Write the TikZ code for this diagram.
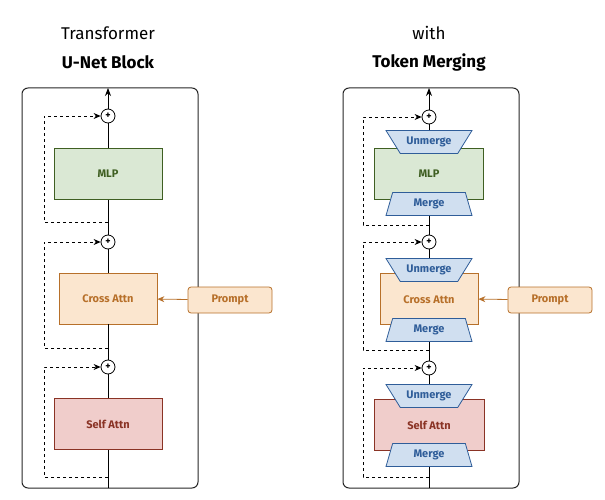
\documentclass[tikz,border=0pt]{standalone}
\usepackage{fontspec}
\setmainfont{Fira Sans}
\usetikzlibrary{shapes.geometric,arrows.meta}
\definecolor{gF}{HTML}{DAE8D4}\definecolor{gD}{HTML}{3F5F22}
\definecolor{oF}{HTML}{FBE6CF}\definecolor{oD}{HTML}{B7702A}
\definecolor{rF}{HTML}{F0CDCB}\definecolor{rD}{HTML}{8A3325}
\definecolor{bF}{HTML}{D0DFF0}\definecolor{bD}{HTML}{2F5D99}
\tikzset{
 panel/.style={draw=black!85,line width=1pt,rounded corners=6pt},
 blk/.style={draw=#1D,fill=#1F,text=#1D,line width=0.8pt,font=\bfseries\fontsize{11}{12}\selectfont,minimum height=51pt,inner sep=0},
 plus/.style={circle,draw,line width=0.8pt,fill=white,minimum size=14pt,inner sep=0,font=\bfseries\fontsize{10}{10}\selectfont},
 trap/.style={trapezium,trapezium angle=#1,draw=bD,fill=bF,text=bD,line width=0.8pt,font=\bfseries\fontsize{11}{12}\selectfont,minimum height=23pt,inner sep=1pt,trapezium stretches=true,minimum width=86pt},
 prm/.style={draw=oD,fill=oF,text=oD,line width=0.8pt,rounded corners=3pt,font=\bfseries\fontsize{11}{12}\selectfont,minimum width=84pt,minimum height=26pt},
 ln/.style={line width=0.8pt},
 skip/.style={line width=0.8pt,dashed,-{Stealth[length=7pt,width=6pt]}},
 ttl/.style={font=\fontsize{17}{18}\selectfont},
}
\begin{document}
\begin{tikzpicture}[x=1pt,y=-1pt]
\useasboundingbox (0,0) rectangle (605,500);
% titles
\node[ttl] (t1) at (108,33) {Transformer};
\node[ttl,font=\bfseries\fontsize{17}{18}\selectfont] (t2) at (108,62) {U-Net Block};
\node[ttl] (t3) at (429,33) {with};
\node[ttl,font=\bfseries\fontsize{17}{18}\selectfont] (t4) at (429,62) {Token Merging};
\foreach \o/\c in {0/108,321/429}{
 \begin{scope}[xshift=\o]
 \draw[panel] (22,88) rectangle (198,488);
 \end{scope}
}
% left panel
\node[blk=g,minimum width=108pt] (mlpA) at (108,174) {MLP};
\node[blk=o,minimum width=98pt] (caA) at (108,298.5) {Cross Attn};
\node[blk=r,minimum width=108pt] (saA) at (108,424) {Self Attn};
\node[plus] (p1A) at (108,116) {+};
\node[plus] (p2A) at (108,242) {+};
\node[plus] (p3A) at (108,367) {+};
\node[prm] (prA) at (230,300) {Prompt};
\coordinate (topA) at (108,88);
\coordinate (botA) at (108,488);
\coordinate (s1A) at (108,222);
\coordinate (s2A) at (108,348);
\coordinate (s3A) at (108,477);
\draw[ln,-{Stealth[length=8pt,width=6pt]}] (p1A) -- (topA);
\draw[ln] (mlpA) -- (p1A) (p2A) -- (mlpA) (caA) -- (p2A) (p3A) -- (caA) (saA) -- (p3A) (botA) -- (saA);
\draw[ln,oD,-{Stealth[length=7pt,width=6pt]}] (prA) -- (caA);
\draw[skip] (s1A) -| (44,116) -- (p1A);
\draw[skip] (s2A) -| (44,242) -- (p2A);
\draw[skip] (s3A) -| (44,367) -- (p3A);
% right panel
\node[blk=g,minimum width=109pt] (mlpB) at (429,174) {};
\node[blk=o,minimum width=98pt] (caB) at (429,298.5) {};
\node[blk=r,minimum width=110pt] (saB) at (429,424.5) {};
\node[text=gD,font=\bfseries\fontsize{11}{12}\selectfont] (mlpT) at (429,174) {MLP};
\node[text=oD,font=\bfseries\fontsize{11}{12}\selectfont] (caT) at (429,300) {Cross Attn};
\node[text=rD,font=\bfseries\fontsize{11}{12}\selectfont] (saT) at (429,425) {Self Attn};
\node[trap=-76,shape border rotate=0] (u1) at (429,142) {};
\node[text=bD,font=\bfseries\fontsize{11}{12}\selectfont] at (u1) {Unmerge};
\node[trap=76] (m1) at (429,204) {Merge};
\node[trap=-76] (u2) at (429,270) {};
\node[text=bD,font=\bfseries\fontsize{11}{12}\selectfont] at (u2) {Unmerge};
\node[trap=76] (m2) at (429,330) {Merge};
\node[trap=-76] (u3) at (429,396) {};
\node[text=bD,font=\bfseries\fontsize{11}{12}\selectfont] at (u3) {Unmerge};
\node[trap=76] (m3) at (429,455) {Merge};
\node[plus] (p1B) at (429,117) {+};
\node[plus] (p2B) at (429,242) {+};
\node[plus] (p3B) at (429,368) {+};
\node[prm] (prB) at (550,300) {Prompt};
\coordinate (topB) at (429,88);
\coordinate (botB) at (429,488);
\coordinate (s1B) at (429,225);
\coordinate (s2B) at (429,350);
\coordinate (s3B) at (429,477);
\draw[ln,-{Stealth[length=8pt,width=6pt]}] (p1B) -- (topB);
\draw[ln] (u1) -- (p1B) (p2B) -- (m1) (u2) -- (p2B) (p3B) -- (m2) (u3) -- (p3B) (botB) -- (m3);
\draw[ln,oD,-{Stealth[length=7pt,width=6pt]}] (prB) -- (caB);
\draw[skip] (s1B) -| (363,117) -- (p1B);
\draw[skip] (s2B) -| (363,242) -- (p2B);
\draw[skip] (s3B) -| (363,368) -- (p3B);
\end{tikzpicture}
\end{document}
